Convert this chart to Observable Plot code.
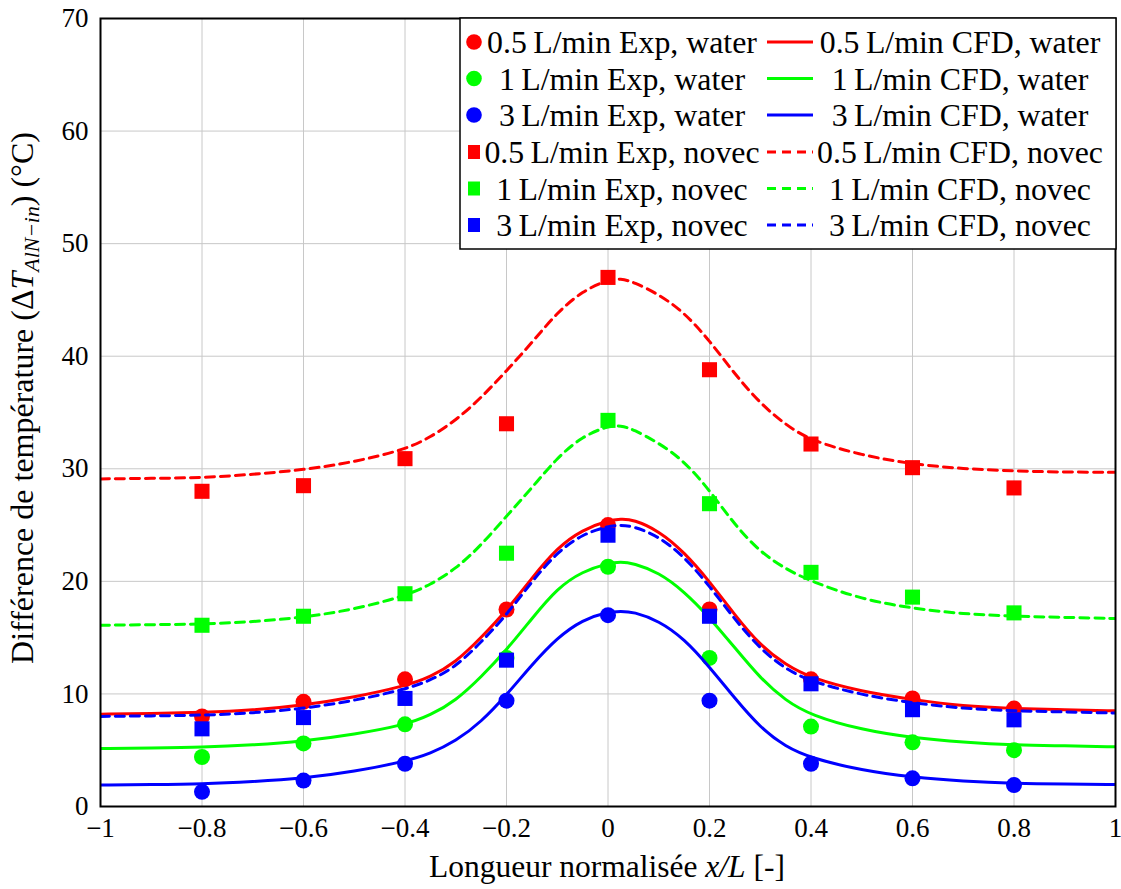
<!DOCTYPE html>
<html>
<head>
<meta charset="utf-8">
<script src="https://cdn.jsdelivr.net/npm/d3@7"></script>
<script src="https://cdn.jsdelivr.net/npm/@observablehq/plot@0.6"></script>
<style>
  html, body { margin: 0; padding: 0; background: #fff; }
  #chart { width: 1121px; height: 889px; }
</style>
</head>
<body>
<div id="chart"></div>
<script>
// ---- data ----
const xTicks = [-1, -0.8, -0.6, -0.4, -0.2, 0, 0.2, 0.4, 0.6, 0.8, 1];
const yTicks = [0, 10, 20, 30, 40, 50, 60, 70];

const xExp = [-0.8, -0.6, -0.4, -0.2, 0, 0.2, 0.4, 0.6, 0.8];
const expWater05 = [8.0, 9.3, 11.3, 17.5, 25.0, 17.5, 11.3, 9.6, 8.7];
const expWater1  = [4.4, 5.6, 7.3, 13.2, 21.3, 13.2, 7.1, 5.7, 5.0];
const expWater3  = [1.3, 2.3, 3.8, 9.4, 17.0, 9.4, 3.8, 2.5, 1.9];
const expNovec05 = [28.0, 28.5, 30.9, 34.0, 47.0, 38.8, 32.2, 30.1, 28.3];
const expNovec1  = [16.1, 16.9, 18.9, 22.5, 34.3, 26.9, 20.8, 18.6, 17.2];
const expNovec3  = [6.9, 7.9, 9.6, 13.0, 24.1, 16.9, 10.9, 8.6, 7.7];

const xCfd = [-1, -0.9, -0.8, -0.7, -0.6, -0.5, -0.4, -0.35, -0.3, -0.25, -0.2, -0.15, -0.1, -0.05, 0, 0.025, 0.05, 0.1, 0.15, 0.2, 0.25, 0.3, 0.35, 0.4, 0.5, 0.6, 0.7, 0.8, 0.9, 1];
const cfdWater05 = [8.2, 8.25, 8.35, 8.55, 9.0, 9.7, 10.7, 11.5, 12.8, 15.0, 17.4, 20.3, 23.0, 24.6, 25.4, 25.55, 25.5, 24.5, 22.6, 20.0, 17.0, 14.3, 12.6, 11.4, 10.2, 9.5, 8.9, 8.7, 8.6, 8.5];
const cfdWater1  = [5.15, 5.2, 5.25, 5.45, 5.8, 6.4, 7.25, 8.1, 9.4, 11.5, 13.9, 16.7, 19.4, 20.9, 21.6, 21.75, 21.6, 20.8, 19.1, 16.8, 14.1, 11.4, 9.4, 8.1, 6.8, 6.1, 5.7, 5.45, 5.4, 5.3];
const cfdWater3  = [1.9, 1.95, 2.0, 2.2, 2.5, 3.1, 4.0, 4.7, 5.8, 7.5, 9.9, 12.6, 15.0, 16.6, 17.3, 17.35, 17.3, 16.5, 14.9, 12.4, 9.6, 7.0, 5.3, 4.3, 3.2, 2.6, 2.25, 2.05, 2.0, 1.95];
const cfdNovec05 = [29.1, 29.15, 29.2, 29.5, 29.9, 30.6, 31.7, 32.8, 34.3, 36.3, 38.7, 41.2, 43.9, 45.8, 46.8, 46.9, 46.6, 45.5, 43.9, 41.4, 38.4, 35.8, 33.9, 32.5, 31.2, 30.4, 30.0, 29.8, 29.7, 29.7];
const cfdNovec1  = [16.1, 16.15, 16.2, 16.4, 16.8, 17.5, 18.7, 19.7, 21.1, 23.2, 25.8, 28.3, 31.0, 32.9, 33.8, 33.85, 33.5, 32.3, 30.7, 28.1, 25.0, 22.6, 21.1, 20.0, 18.4, 17.6, 17.1, 16.9, 16.8, 16.7];
const cfdNovec3  = [8.0, 8.05, 8.1, 8.3, 8.7, 9.4, 10.4, 11.2, 12.4, 14.6, 17.0, 20.0, 22.6, 24.2, 24.9, 25.0, 24.9, 24.0, 22.2, 19.6, 16.6, 14.0, 12.2, 11.1, 9.9, 9.2, 8.7, 8.5, 8.4, 8.3];

const legendLabels = [
  ["0.5\u2009L/min Exp, water", "0.5\u2009L/min CFD, water"],
  ["1\u2009L/min Exp, water", "1\u2009L/min CFD, water"],
  ["3\u2009L/min Exp, water", "3\u2009L/min CFD, water"],
  ["0.5\u2009L/min Exp, novec", "0.5\u2009L/min CFD, novec"],
  ["1\u2009L/min Exp, novec", "1\u2009L/min CFD, novec"],
  ["3\u2009L/min Exp, novec", "3\u2009L/min CFD, novec"]
];

// ---- series table ----
const RED = "#ff0000", GREEN = "#00ff00", BLUE = "#0000ff";
const series = [
  {exp: expWater05, cfd: cfdWater05, color: RED,   symbol: "circle", dash: null},
  {exp: expWater1,  cfd: cfdWater1,  color: GREEN, symbol: "circle", dash: null},
  {exp: expWater3,  cfd: cfdWater3,  color: BLUE,  symbol: "circle", dash: null},
  {exp: expNovec05, cfd: cfdNovec05, color: RED,   symbol: "square", dash: "9,6"},
  {exp: expNovec1,  cfd: cfdNovec1,  color: GREEN, symbol: "square", dash: "9,6"},
  {exp: expNovec3,  cfd: cfdNovec3,  color: BLUE,  symbol: "square", dash: "9,6"}
];

const fmt = d => d === 0 ? "0" : String(d).replace("-", "\u2212");
const FONT = "Liberation Serif";

const marks = [
  Plot.gridX(xTicks, {stroke: "#c8c8c8", strokeOpacity: 1, strokeWidth: 1}),
  Plot.gridY(yTicks, {stroke: "#c8c8c8", strokeOpacity: 1, strokeWidth: 1}),
];
for (const s of series) {
  const pts = xExp.map((x, i) => ({x, y: s.exp[i]}));
  const line = xCfd.map((x, i) => ({x, y: s.cfd[i]}));
  marks.push(Plot.dot(pts, {x: "x", y: "y", fill: s.color, stroke: "none",
    symbol: s.symbol, r: s.symbol === "circle" ? 8 : 8.5}));
  marks.push(Plot.line(line, {x: "x", y: "y", stroke: s.color, strokeWidth: 3,
    strokeDasharray: s.dash, curve: "basis", clip: true}));
}
marks.push(Plot.frame({stroke: "black", strokeWidth: 2}));
marks.push(Plot.axisX(xTicks, {tickFormat: fmt, tickSize: 0, tickPadding: 11, fontSize: 27, label: null, fontFamily: FONT}));
marks.push(Plot.axisY(yTicks, {tickFormat: fmt, tickSize: 0, tickPadding: 12, fontSize: 27, label: null, fontFamily: FONT}));

const svg = Plot.plot({
  width: 1121,
  height: 889,
  marginLeft: 100,
  marginRight: 6,
  marginTop: 18,
  marginBottom: 83,
  style: {color: "black", background: "white", overflow: "visible", fontFamily: FONT},
  x: {domain: [-1, 1]},
  y: {domain: [0, 70]},
  marks
});
document.getElementById("chart").appendChild(svg);

// fit a text node's font size so its rendered length matches a target length
function fitText(node, base, target) {
  const len = node.getComputedTextLength();
  if (len > 0) return base * target / len;
  return base;
}

// ---- axis titles with italic / subscript parts ----
const root = d3.select(svg);
const yl = root.append("text")
  .attr("transform", "translate(33,398) rotate(-90)")
  .attr("text-anchor", "middle")
  .style("font-family", FONT)
  .attr("font-size", 28)
  .attr("fill", "black");
yl.append("tspan").text("Différence de température (\u0394");
yl.append("tspan").attr("font-style", "italic").text("T");
const sub = yl.append("tspan").attr("font-style", "italic").attr("font-size", 19).attr("dy", 6).text("AlN\u2212in");
yl.append("tspan").attr("dy", -6).text(") (°C)");
{
  const fs = Math.min(32, fitText(yl.node(), 28, 590));
  yl.attr("font-size", fs);
  sub.attr("font-size", fs * 0.68).attr("dy", fs * 0.2);
  yl.select("tspan:last-child").attr("dy", -fs * 0.2);
}

const xl = root.append("text")
  .attr("x", 607).attr("y", 877)
  .attr("text-anchor", "middle")
  .style("font-family", FONT)
  .attr("font-size", 28)
  .attr("fill", "black");
xl.append("tspan").text("Longueur normalisée ");
xl.append("tspan").attr("font-style", "italic").text("x/L");
xl.append("tspan").text(" [-]");
xl.attr("font-size", Math.min(32, fitText(xl.node(), 28, 356)));

// ---- legend ----
const lg = root.append("g").attr("font-size", 28).style("font-family", FONT);
lg.append("rect").attr("x", 460).attr("y", 18).attr("width", 656).attr("height", 231)
  .attr("fill", "white").attr("stroke", "black").attr("stroke-width", 1.5);
const rowY = [42, 78.5, 115, 152, 188.5, 225];
const texts = [];
series.forEach((s, i) => {
  const y = rowY[i];
  if (s.symbol === "circle") {
    lg.append("circle").attr("cx", 474).attr("cy", y).attr("r", 7.8).attr("fill", s.color);
  } else {
    lg.append("rect").attr("x", 468).attr("y", y - 7).attr("width", 12).attr("height", 14).attr("fill", s.color);
  }
  texts.push(lg.append("text").attr("x", 622).attr("y", y).attr("dy", "0.35em").attr("text-anchor", "middle").text(legendLabels[i][0]));
  lg.append("line").attr("x1", 767).attr("x2", 813).attr("y1", y).attr("y2", y)
    .attr("stroke", s.color).attr("stroke-width", 3).attr("stroke-dasharray", s.dash);
  texts.push(lg.append("text").attr("x", 960).attr("y", y).attr("dy", "0.35em").attr("text-anchor", "middle").text(legendLabels[i][1]));
});
{
  const fs = Math.min(32, fitText(texts[0].node(), 28, 270));
  lg.attr("font-size", fs);
}
</script>
</body>
</html>
